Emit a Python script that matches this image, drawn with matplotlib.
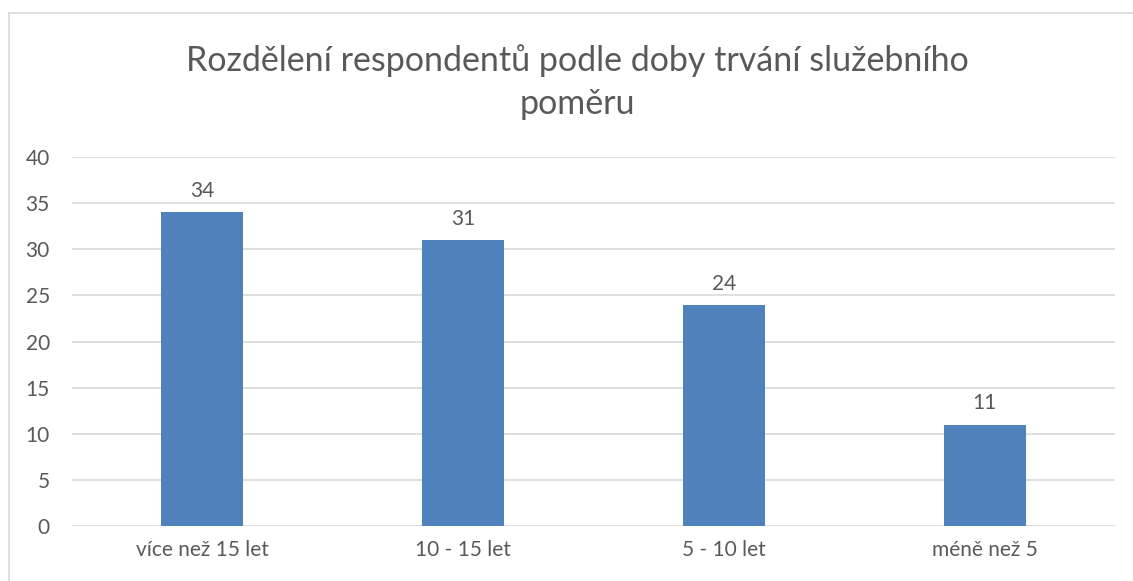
import matplotlib
matplotlib.use("Agg")
import matplotlib.pyplot as plt
import numpy as np

# ─── Data ─────────────────────────────────────────────────────────────────────
categories = ["více než 15 let", "10 - 15 let", "5 - 10 let", "méně než 5"]
values = [34, 31, 24, 11]
y_ticks = [0, 5, 10, 15, 20, 25, 30, 35, 40]
title = "Rozdělení respondentů podle doby trvání služebního\npoměru"

TEXT = "#595959"
GRID = "#d9d9d9"
BAR = "#4f81bd"

plt.rcParams["font.family"] = ["Lato", "DejaVu Sans"]

W, H = 1133, 581
fig = plt.figure(figsize=(W / 100, H / 100), dpi=100, facecolor="white")
ax = fig.add_axes([72 / W, 1 - 526 / H, (1115 - 72) / W, (526 - 157) / H])

x = np.arange(len(categories))
ax.bar(x, values, width=0.315, color=BAR, zorder=3)
for xi, v in zip(x, values):
    ax.text(xi, v + 1.2, str(v), ha="center", va="bottom", fontsize=15, color=TEXT)

ax.set_xlim(-0.5, len(categories) - 0.5)
ax.set_ylim(0, 40)
ax.set_yticks(y_ticks)
ax.set_xticks(x)
ax.set_xticklabels(categories)
ax.yaxis.grid(True, color=GRID, lw=1.2, zorder=0)
ax.tick_params(axis="both", length=0, labelsize=15, colors=TEXT)
ax.tick_params(axis="y", pad=16)
ax.tick_params(axis="x", pad=10)
for s in ax.spines.values():
    s.set_visible(False)

# chart area border
fig.add_artist(plt.Rectangle((9 / W, -0.1), 1.2, 1 - 13 / H + 0.1,
                             transform=fig.transFigure, fill=False,
                             ec=GRID, lw=1.2))

fig.text(577 / W, 1 - 82 / H, title, ha="center", va="center",
         fontsize=24.5, color=TEXT, linespacing=1.45)

fig.savefig("out.png", dpi=100, facecolor="white")
